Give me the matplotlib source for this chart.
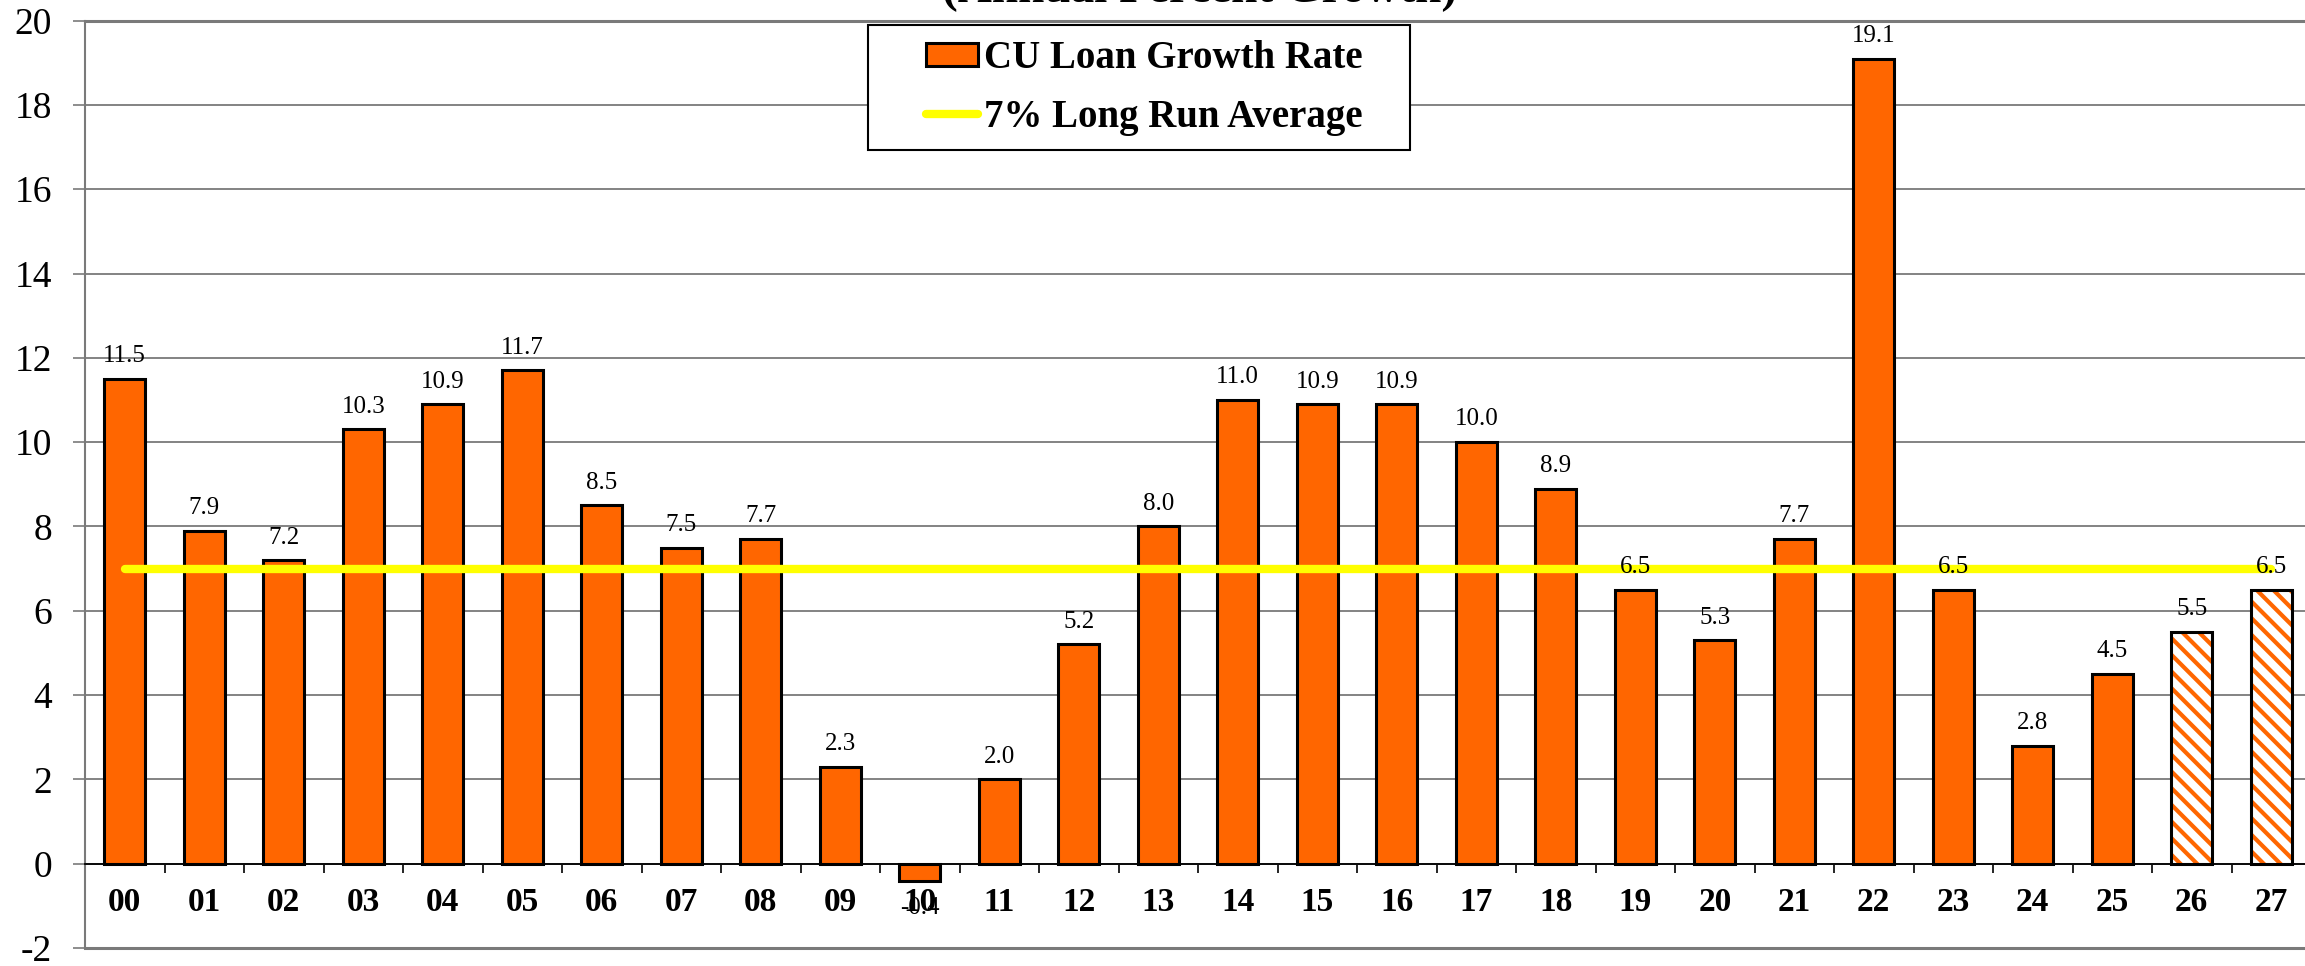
import matplotlib
matplotlib.use("Agg")
import matplotlib.pyplot as plt
from matplotlib.patches import Rectangle
import numpy as np

years = ["00", "01", "02", "03", "04", "05", "06", "07", "08", "09",
         "10", "11", "12", "13", "14", "15", "16", "17", "18", "19",
         "20", "21", "22", "23", "24", "25", "26", "27"]
growth = [11.5, 7.9, 7.2, 10.3, 10.9, 11.7, 8.5, 7.5, 7.7, 2.3,
          -0.4, 2.0, 5.2, 8.0, 11.0, 10.9, 10.9, 10.0, 8.9, 6.5,
          5.3, 7.7, 19.1, 6.5, 2.8, 4.5, 5.5, 6.5]
forecast = [False] * 26 + [True, True]
long_run_avg = 7.0
title = "(Annual Percent Growth)"
legend_labels = ["CU Loan Growth Rate", "7% Long Run Average"]

ORANGE = "#FF6600"
YELLOW = "#FFFF00"
GRID = "#7a7a7a"
serif = ["Liberation Serif", "DejaVu Serif"]
plt.rcParams["font.family"] = serif
plt.rcParams["hatch.linewidth"] = 3.0

W, H = 2305, 966
fig = plt.figure(figsize=(W / 100, H / 100), dpi=100)
left, right = 85, 2311
top, bottom = 20.6, 948
ax = fig.add_axes([left / W, 1 - bottom / H, (right - left) / W, (bottom - top) / H])

# spines first (set_position resets tick properties)
ax.spines["bottom"].set_position(("data", 0))
ax.spines["bottom"].set_color("black")
ax.spines["bottom"].set_linewidth(1.3)
ax.spines["bottom"].set_zorder(4)
ax.spines["top"].set_color(GRID)
ax.spines["top"].set_linewidth(2.2)
ax.spines["left"].set_color(GRID)
ax.spines["left"].set_linewidth(1.5)
ax.spines["right"].set_visible(False)

x = np.arange(len(years))
bw = 0.51
vals = np.array(growth)
fc = np.array(forecast)
solid = ~fc

bars = ax.bar(x[solid], vals[solid], width=bw, color=ORANGE, edgecolor="black",
              linewidth=2.2, zorder=3)
ax.bar(x[fc], vals[fc], width=bw, color="white", edgecolor=ORANGE,
       hatch="\\\\", linewidth=0, zorder=3)
ax.bar(x[fc], vals[fc], width=bw, fill=False, edgecolor="black",
       linewidth=2.2, zorder=4)

line, = ax.plot([x[0], x[-1]], [long_run_avg, long_run_avg], color=YELLOW, lw=6,
                solid_capstyle="round", zorder=5)

for xi, v in zip(x, vals):
    off = 12 if v >= 0 else -24
    ax.annotate(f"{v:.1f}", (xi, v), xytext=(0, off), textcoords="offset points",
                ha="center", va="baseline", fontsize=18, family=serif, zorder=6)

ax.set_xlim(-0.5, len(years) - 0.5)
ax.set_ylim(-2, 20)
yt = np.arange(-2, 21, 2)
ax.set_yticks(yt)
ax.set_yticklabels([str(t) for t in yt], fontsize=27, family=serif)
ax.tick_params(axis="y", length=8.6, width=1.2, color=GRID, pad=15)

ax.set_xticks(x)
ax.set_xticklabels(years, fontsize=24, fontweight="bold", family=serif)
ax.set_xticks(np.arange(0.5, len(years) - 1, 1), minor=True)
ax.tick_params(axis="x", which="major", length=0, pad=17)
ax.tick_params(axis="x", which="minor", length=6.5, width=1.2, color="black", direction="out")

ax.yaxis.grid(True, color=GRID, lw=1.3, zorder=0)
ax.set_axisbelow(True)
ax.axhline(-2, color=GRID, lw=2.2, clip_on=False, zorder=2)

# legend box (frame drawn separately for Excel-like padding)
box = Rectangle((868 / W, 1 - 150 / H), (1410 - 868) / W, (150 - 25) / H,
                transform=fig.transFigure, facecolor="white", edgecolor="black",
                linewidth=1.5, zorder=10)
fig.add_artist(box)
leg = fig.legend([bars, line], legend_labels, loc="center left",
                 bbox_to_anchor=(926 / W, 1 - 88 / H), bbox_transform=fig.transFigure,
                 prop={"family": serif, "weight": "bold", "size": 28},
                 frameon=False, borderpad=0, labelspacing=0.55,
                 handlelength=1.34, handletextpad=0.15, handleheight=0.54,
                 borderaxespad=0)
leg.set_zorder(11)

fig.text(1200 / W, 1 - 2 / H, title, ha="center", va="baseline",
         fontsize=34, fontweight="bold", family=serif)

fig.savefig("out.png", dpi=100)
